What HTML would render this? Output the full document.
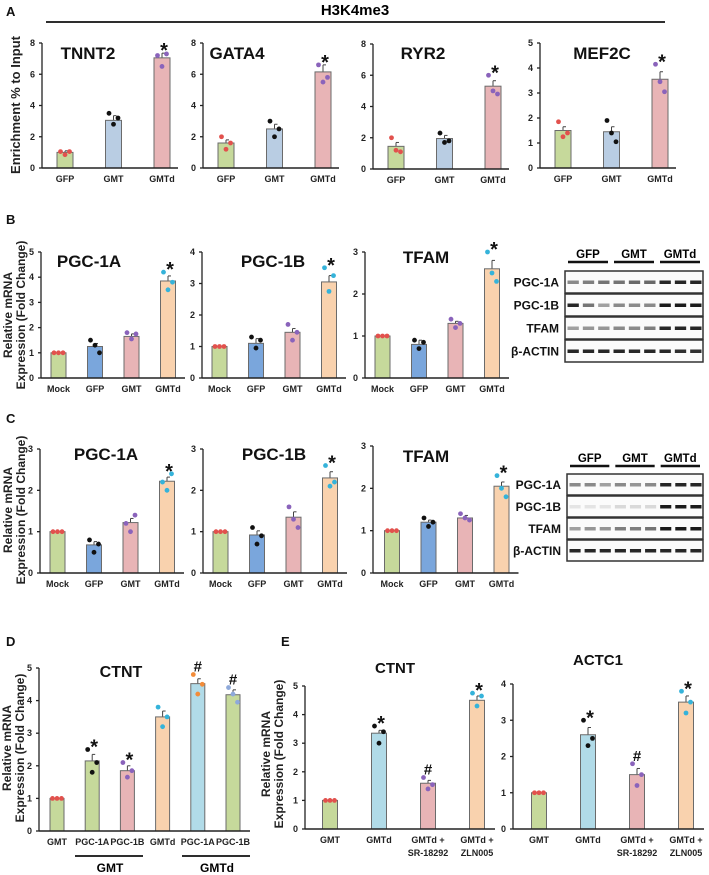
<!DOCTYPE html>
<html><head><meta charset="utf-8">
<style>
html,body{margin:0;padding:0;background:#fff;}
svg{display:block;font-family:"Liberation Sans",Arial,sans-serif;}
.tk{font-size:9px;font-weight:bold;fill:#222;font-family:"Liberation Sans Narrow","Liberation Sans",sans-serif;}
.cat{font-size:9px;font-weight:bold;fill:#222;font-family:"Liberation Sans Narrow","Liberation Sans",sans-serif;}
.ttl{font-weight:bold;fill:#111;}
.lab{font-size:13px;font-weight:bold;fill:#111;}
.yt{font-size:12px;font-weight:bold;fill:#222;}
</style></head>
<body>
<svg id="fig" width="709" height="875" viewBox="0 0 709 875" xmlns="http://www.w3.org/2000/svg">
<g>
<text class="lab" x="6" y="16">A</text>
<text class="lab" x="6" y="224">B</text>
<text class="lab" x="6" y="423">C</text>
<text class="lab" x="6" y="646">D</text>
<text class="lab" x="281" y="646">E</text>
</g>
<text x="355" y="15" text-anchor="middle" style="font-size:15px;font-weight:bold">H3K4me3</text>
<line x1="46" y1="22" x2="665" y2="22" stroke="#111" stroke-width="1.8"/>
<text class="yt" transform="translate(20,105) rotate(-90)" text-anchor="middle" style="font-size:13px">Enrichment % to Input</text>
<text class="yt" transform="translate(12,315) rotate(-90)" text-anchor="middle">Relative mRNA</text>
<text class="yt" transform="translate(25,315) rotate(-90)" text-anchor="middle">Expression (Fold Change)</text>
<text class="yt" transform="translate(12,510) rotate(-90)" text-anchor="middle">Relative mRNA</text>
<text class="yt" transform="translate(25,510) rotate(-90)" text-anchor="middle">Expression (Fold Change)</text>
<text class="yt" transform="translate(11,748) rotate(-90)" text-anchor="middle">Relative mRNA</text>
<text class="yt" transform="translate(24,748) rotate(-90)" text-anchor="middle">Expression (Fold Change)</text>
<text class="yt" transform="translate(270,754) rotate(-90)" text-anchor="middle">Relative mRNA</text>
<text class="yt" transform="translate(283,754) rotate(-90)" text-anchor="middle">Expression (Fold Change)</text>
<g>
<line x1="75" y1="856" x2="143" y2="856" stroke="#111" stroke-width="1.8"/>
<line x1="182" y1="856" x2="250" y2="856" stroke="#111" stroke-width="1.8"/>
<text x="110" y="872" text-anchor="middle" style="font-size:12px;font-weight:bold">GMT</text>
<text x="217" y="872" text-anchor="middle" style="font-size:12px;font-weight:bold">GMTd</text>
</g>
<g id="charts"></g>
<g id="blots"></g>
</svg>
<script>
// ---- data ----
const catsA = ["GFP","GMT","GMTd"];
const tnnt2Vals = [1.0,3.05,7.05];
const tnnt2Err = [0.1,0.3,0.3];
const tnnt2Pts = [[1.05,0.85,1.05],[3.5,2.8,3.2],[7.2,6.5,7.3]];
const gata4Vals = [1.6,2.5,6.15];
const gata4Err = [0.2,0.3,0.45];
const gata4Pts = [[2.0,1.2,1.6],[3.0,2.0,2.5],[6.6,5.5,5.8]];
const ryr2Vals = [1.45,1.95,5.3];
const ryr2Err = [0.25,0.2,0.35];
const ryr2Pts = [[2.0,1.2,1.1],[2.3,1.7,1.8],[6.0,5.0,4.8]];
const mef2cVals = [1.5,1.45,3.55];
const mef2cErr = [0.15,0.2,0.3];
const mef2cPts = [[1.85,1.25,1.4],[1.9,1.4,1.05],[4.15,3.45,3.05]];
const ticksA8 = [0,2,4,6,8];
const ticks5 = [0,1,2,3,4,5];
const ticks4 = [0,1,2,3,4];
const ticks3 = [0,1,2,3];
const catsB = ["Mock","GFP","GMT","GMTd"];
const bPgc1aVals = [1,1.25,1.65,3.85];
const bPgc1aErr = [0,0.12,0.1,0.2];
const bPgc1aPts = [[1,1,1],[1.5,1.3,1.0],[1.8,1.55,1.75],[4.2,3.5,3.8]];
const bPgc1bVals = [1,1.1,1.45,3.05];
const bPgc1bErr = [0,0.15,0.12,0.2];
const bPgc1bPts = [[1,1,1],[1.3,0.95,1.2],[1.7,1.2,1.45],[3.5,2.75,3.25]];
const bTfamVals = [1,0.8,1.3,2.6];
const bTfamErr = [0,0.1,0.05,0.2];
const bTfamPts = [[1,1,1],[0.9,0.7,0.85],[1.4,1.2,1.3],[3.0,2.5,2.3]];
const cPgc1aVals = [1,0.68,1.22,2.22];
const cPgc1aErr = [0,0.08,0.1,0.1];
const cPgc1aPts = [[1,1,1],[0.8,0.5,0.7],[1.2,1.0,1.4],[2.2,2.0,2.4]];
const cPgc1bVals = [1,0.92,1.35,2.3];
const cPgc1bErr = [0,0.1,0.13,0.15];
const cPgc1bPts = [[1,1,1],[1.1,0.7,0.9],[1.6,1.3,1.1],[2.6,2.1,2.2]];
const cTfamVals = [1,1.2,1.3,2.05];
const cTfamErr = [0,0.05,0.06,0.1];
const cTfamPts = [[1,1,1],[1.3,1.1,1.2],[1.4,1.3,1.25],[2.3,2.0,1.8]];
const catsD = ["GMT","PGC-1A","PGC-1B","GMTd","PGC-1A","PGC-1B"];
const dVals = [1,2.15,1.85,3.5,4.52,4.18];
const dErr = [0,0.2,0.15,0.18,0.15,0.15];
const dPts = [[1,1,1],[2.5,1.8,2.1],[2.1,1.65,1.85],[3.8,3.2,3.5],[4.8,4.2,4.5],[4.4,4.2,3.95]];
const dMarks = ["","*","*","","#","#"];
const catsE = [["GMT"],["GMTd"],["GMTd +","SR-18292"],["GMTd +","ZLN005"]];
const eCtntVals = [1,3.35,1.6,4.5];
const eCtntErr = [0,0.1,0.1,0.15];
const eCtntPts = [[1,1,1],[3.6,3.0,3.4],[1.8,1.4,1.55],[4.75,4.3,4.65]];
const eActc1Vals = [1,2.6,1.5,3.5];
const eActc1Err = [0,0.2,0.17,0.17];
const eActc1Pts = [[1,1,1],[3.0,2.3,2.5],[1.8,1.2,1.5],[3.8,3.2,3.5]];
const eMarks = ["","*","#","*"];
const starLast3 = ["","","*"];
const starLast4 = ["","","","*"];

// ---- styles ----
const C = {green:"#c6d99b",lblue:"#b9cde3",blue:"#7aa6dc",pink:"#e8b4b6",peach:"#f9d2ae",cyan:"#b1dbe8"};
const P = {red:"#e2514d",blk:"#111",pur:"#8a63bb",cy:"#35b3da",org:"#f28c3a",lb:"#8ea9da"};
const NS="http://www.w3.org/2000/svg";
const root=document.getElementById('charts');
function mk(tag,attrs,parent){const e=document.createElementNS(NS,tag);for(const k in attrs)e.setAttribute(k,attrs[k]);(parent||root).appendChild(e);return e;}

function chart(o){
  const g=mk('g',{});
  
  
  const y=v=>o.y0-(v/o.max)*(o.y0-o.yTop);
  const bx=i=>o.ax+o.off+i*o.step;
  const xEnd=bx(o.vals.length-1)+o.endPad;
  const ya=mk('line',{x1:o.ax,y1:o.yTop,x2:o.ax,y2:o.y0,stroke:'#222','stroke-width':1.3},g);
  
  
  o.ticks.forEach(t=>{
    mk('line',{x1:o.ax-3,y1:y(t),x2:o.ax,y2:y(t),stroke:'#222','stroke-width':1.3},g);
    const tx=mk('text',{x:o.ax-7,y:y(t)+3,class:'tk','text-anchor':'end'},g);
    tx.textContent=t;
    
    
  });
  const tt=mk('text',{x:o.tx,y:o.ty,class:'ttl','text-anchor':'middle','font-size':o.ts||17},g);
  tt.textContent=o.title;
  
  
  const hw=o.bw/2;
  o.vals.forEach((v,i)=>{
    const cx=bx(i);
    if(o.err[i]>0){
      mk('line',{x1:cx,y1:y(v),x2:cx,y2:y(v+o.err[i]),stroke:'#444','stroke-width':1},g);
      mk('line',{x1:cx,y1:y(v+o.err[i]),x2:cx+3,y2:y(v+o.err[i]),stroke:'#444','stroke-width':1},g);
    }
    const r=mk('rect',{x:cx-hw,y:y(v),width:o.bw,height:o.y0-y(v),fill:o.fills[i],stroke:'#6b6b6b','stroke-width':1},g);
    
    
    const offs=[-4.5,0,4.5];
    o.pts[i].forEach((p,j)=>{
      const d=mk('circle',{cx:cx+offs[j],cy:y(p),r:2.4,fill:o.pcols[i]},g);
      
      
    });
    if(o.marks[i]){
      const top=Math.max(v+o.err[i],Math.max.apply(null,o.pts[i]));
      const m=mk('text',{x:cx+(o.marks[i]==='*'?2:0),y:y(top)-(o.marks[i]==='*'?-4:3),'text-anchor':'middle','font-size':o.marks[i]==='*'?20:15,'font-weight':'bold',fill:'#111'},g);
      m.textContent=o.marks[i];
      
      
    }
    const lines=Array.isArray(o.cats[i])?o.cats[i]:[o.cats[i]];
    lines.forEach((l,k)=>{
      const c=mk('text',{x:cx,y:o.y0+o.labDy+k*13,class:'cat','text-anchor':'middle','font-size':o.cfs||9},g);
      c.textContent=l;
      
      
    });
  });
  const xa=mk('line',{x1:o.ax,y1:o.y0,x2:xEnd,y2:o.y0,stroke:'#222','stroke-width':1.5},g);
  
  
}
const fA=[C.green,C.lblue,C.pink], pA=[P.red,P.blk,P.pur];
const fB=[C.green,C.blue,C.pink,C.peach], pB=[P.red,P.blk,P.pur,P.cy];
const baseA={yTop:43,y0:168,off:23,step:48.5,bw:16,endPad:16,labDy:14,fills:fA,pcols:pA,marks:starLast3,cats:catsA};
chart(Object.assign({},baseA,{name:'tnnt2-chart',title:'TNNT2',ax:42,max:8,ticks:ticksA8,vals:tnnt2Vals,err:tnnt2Err,pts:tnnt2Pts,tx:88,ty:59}));
chart(Object.assign({},baseA,{name:'gata4-chart',title:'GATA4',ax:203,max:8,ticks:ticksA8,vals:gata4Vals,err:gata4Err,pts:gata4Pts,tx:237,ty:59}));
chart(Object.assign({},baseA,{name:'ryr2-chart',title:'RYR2',ax:373,yTop:44,y0:169,max:8,ticks:ticksA8,vals:ryr2Vals,err:ryr2Err,pts:ryr2Pts,tx:423,ty:59}));
chart(Object.assign({},baseA,{name:'mef2c-chart',title:'MEF2C',ax:540,max:5,ticks:ticks5,vals:mef2cVals,err:mef2cErr,pts:mef2cPts,tx:602,ty:59}));
const baseB={off:17.5,step:36.5,bw:15,endPad:17,labDy:14,fills:fB,pcols:pB,marks:starLast4,cats:catsB};
chart(Object.assign({},baseB,{name:'b-pgc1a-chart',title:'PGC-1A',ax:41,yTop:252,y0:378,max:5,ticks:ticks5,vals:bPgc1aVals,err:bPgc1aErr,pts:bPgc1aPts,tx:89,ty:267}));
chart(Object.assign({},baseB,{name:'b-pgc1b-chart',title:'PGC-1B',ax:202,yTop:252,y0:378,max:4,ticks:ticks4,vals:bPgc1bVals,err:bPgc1bErr,pts:bPgc1bPts,tx:273,ty:267}));
chart(Object.assign({},baseB,{name:'b-tfam-chart',title:'TFAM',ax:365,yTop:252,y0:378,max:3,ticks:ticks3,vals:bTfamVals,err:bTfamErr,pts:bTfamPts,tx:426,ty:263}));
chart(Object.assign({},baseB,{name:'c-pgc1a-chart',title:'PGC-1A',ax:40,yTop:449,y0:573,max:3,ticks:ticks3,vals:cPgc1aVals,err:cPgc1aErr,pts:cPgc1aPts,tx:106,ty:460}));
chart(Object.assign({},baseB,{name:'c-pgc1b-chart',title:'PGC-1B',ax:203,yTop:449,y0:573,max:3,ticks:ticks3,vals:cPgc1bVals,err:cPgc1bErr,pts:cPgc1bPts,tx:274,ty:460}));
chart(Object.assign({},baseB,{name:'c-tfam-chart',title:'TFAM',ax:373,off:19,yTop:446,y0:573,max:3,ticks:ticks3,vals:cTfamVals,err:cTfamErr,pts:cTfamPts,tx:426,ty:462}));
chart({name:'d-ctnt-chart',title:'CTNT',ax:39,off:18,step:35.2,bw:14,endPad:17,labDy:14,cfs:8.5,yTop:668,y0:831,max:5,ticks:ticks5,vals:dVals,err:dErr,pts:dPts,tx:121,ty:677,ts:16,
  fills:[C.green,C.green,C.pink,C.peach,C.cyan,C.green],pcols:[P.red,P.blk,P.pur,P.cy,P.org,P.lb],marks:dMarks,cats:catsD});
const baseE={off:25,step:49,bw:15,endPad:18,labDy:14,cfs:10,y0:829,fills:[C.green,C.cyan,C.pink,C.peach],pcols:[P.red,P.blk,P.pur,P.cy],marks:eMarks,cats:catsE,ts:15};
chart(Object.assign({},baseE,{name:'e-ctnt-chart',title:'CTNT',ax:305,yTop:686,max:5,ticks:ticks5,vals:eCtntVals,err:eCtntErr,pts:eCtntPts,tx:395,ty:673}));
chart(Object.assign({},baseE,{name:'e-actc1-chart',title:'ACTC1',ax:513,off:26,yTop:684,max:4,ticks:ticks4,vals:eActc1Vals,err:eActc1Err,pts:eActc1Pts,tx:598,ty:665}));

// ---- western blots ----
const blotRows=["PGC-1A","PGC-1B","TFAM","β-ACTIN"];
const blotGroups=["GFP","GMT","GMTd"];
const blotB=[[0.5,0.55,0.6,0.6,0.65,0.65,0.95,0.95,0.95],[0.95,0.6,0.4,0.5,0.5,0.5,1,1,1],[0.4,0.45,0.45,0.5,0.5,0.55,0.95,0.95,0.95],[0.95,0.95,0.95,0.95,0.95,0.95,0.95,0.9,0.9]];
const blotC=[[0.5,0.5,0.4,0.5,0.45,0.5,0.95,0.95,0.95],[0.1,0.1,0.1,0.15,0.15,0.15,1,1,1],[0.4,0.45,0.45,0.55,0.55,0.6,1,1,1],[0.95,0.95,0.95,0.95,0.95,0.95,0.95,0.95,0.95]];
const broot=document.getElementById('blots');
function blot(name,x0,x1,yTop,rowH,hdrY,data){
  const g=mk('g',{},broot);
  
  
  const w=(x1-x0)/3;
  blotGroups.forEach((gl,i)=>{
    const t=mk('text',{x:x0+w*i+w/2,y:hdrY,'text-anchor':'middle','font-size':11.5,'font-weight':'bold'},g);
    t.textContent=gl;
    
    
    mk('line',{x1:x0+w*i+3,y1:hdrY+4,x2:x0+w*(i+1)-3,y2:hdrY+4,stroke:'#111','stroke-width':2.4},g);
  });
  blotRows.forEach((r,k)=>{
    const y=yTop+k*rowH;
    const b=mk('rect',{x:x0,y:y,width:x1-x0,height:rowH-1,fill:'#fbfbfb',stroke:'#333','stroke-width':1.5},g);
    
    
    const t=mk('text',{x:x0-6,y:y+rowH/2+4,'text-anchor':'end','font-size':12,'font-weight':'bold',fill:'#111'},g);
    t.textContent=r;
    
    
    const lw=(x1-x0)/9;
    data[k].forEach((v,l)=>{
      mk('rect',{x:x0+lw*l+2.5,y:y+rowH/2-2,width:lw-4,height:3.5,fill:'#1a1a1a',opacity:v},g);
    });
  });
}
blot('western-blot-b',565,703,271,23,258,blotB);
blot('western-blot-c',567,703,474,22,462,blotC);
</script>
</body></html>
